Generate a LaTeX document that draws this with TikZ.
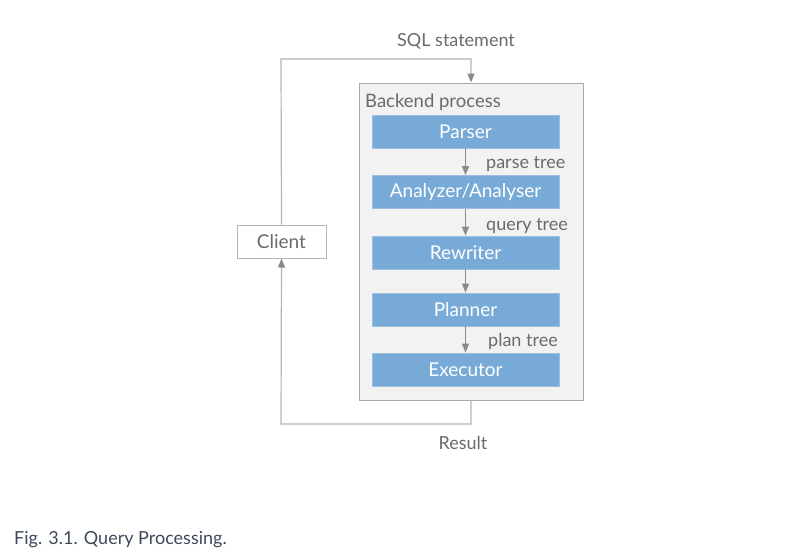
\documentclass[tikz,border=0pt]{standalone}
\usepackage{fontspec}
\setmainfont{Lato}
\usetikzlibrary{arrows.meta}
\definecolor{blueb}{HTML}{78AAD7}
\definecolor{bluebd}{HTML}{9CC0E2}
\definecolor{backfill}{HTML}{F2F2F2}
\definecolor{backdraw}{HTML}{A8A8A8}
\definecolor{linec}{HTML}{B4B4B4}
\definecolor{arrc}{HTML}{8A8A8A}
\definecolor{txt}{HTML}{6A6A6A}
\definecolor{captc}{HTML}{3C4A5C}
\tikzset{
  stage/.style={draw=bluebd, fill=blueb, line width=0.8pt, minimum width=187pt, minimum height=33pt, inner sep=0pt, text=white, font=\fontsize{19}{22}\selectfont},
  lbl/.style={text=txt, font=\fontsize{18}{21}\selectfont, inner sep=0pt},
  flow/.style={draw=arrc, line width=1.2pt, -{Triangle[length=9pt,width=7pt]}},
  looparr/.style={draw=linec, line width=1.2pt, -{Triangle[length=9pt,width=7pt,color=arrc]}}
}
\begin{document}
\begin{tikzpicture}[x=1pt,y=-1pt]
\useasboundingbox (0,0) rectangle (796,555);
\fill[white] (0,0) rectangle (796,555);
% backend
\node[draw=backdraw, fill=backfill, line width=1pt, minimum width=224pt, minimum height=317pt, inner sep=0pt] (back) at (471,241.5) {};
\node[lbl, anchor=west, font=\fontsize{18.5}{21}\selectfont] (backlbl) at (365,102) {Backend process};
\node[stage] (parser) at (465.5,131.5) {Parser};
\node[stage] (anal) at (465.5,192) {Analyzer/Analyser};
\node[stage] (rewr) at (465.5,252.5) {Rewriter};
\node[stage] (plan) at (465.5,309.5) {Planner};
\node[stage] (exec) at (465.5,369.5) {Executor};
% client
\node[draw=linec, fill=white, line width=1pt, minimum width=89pt, minimum height=33pt, inner sep=0pt, text=txt, font=\fontsize{19}{22}\selectfont] (client) at (281.5,241.5) {Client};
% internal arrows
\draw[flow] (parser.south) -- (anal.north);
\draw[flow] (anal.south) -- (rewr.north);
\draw[flow] (rewr.south) -- (plan.north);
\draw[flow] (plan.south) -- (exec.north);
\node[lbl, anchor=west] (pt) at (486,164) {parse tree};
\node[lbl, anchor=west] (qt) at (486,226) {query tree};
\node[lbl, anchor=west] (plt) at (488,341) {plan tree};
% loop
\coordinate (tl) at (281,59);
\coordinate (tr) at (471,59);
\coordinate (bl) at (281,424);
\coordinate (br) at (471,424);
\draw[looparr] (client.north) -- (tl) -- (tr) -- (back.north);
\draw[looparr] (back.south) -- (br) -- (bl) -- (client.south);
\node[lbl] (sql) at (456,41) {SQL statement};
\node[lbl] (res) at (463,443) {Result};
% caption
\node[anchor=west, inner sep=0pt, text=captc, font=\fontsize{18}{22}\selectfont] (cap) at (14,540) {Fig. 3.1. Query Processing.};
\end{tikzpicture}
\end{document}
